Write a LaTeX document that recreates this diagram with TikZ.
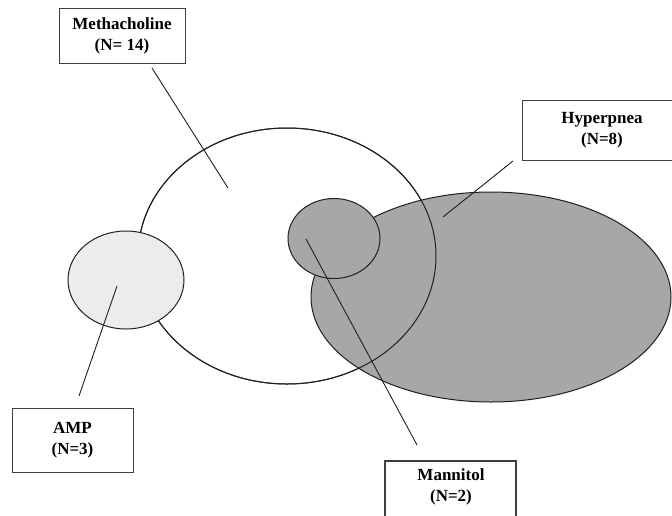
\documentclass[tikz,border=0pt]{standalone}
\usepackage{fontspec}
\setmainfont{Liberation Serif}
\definecolor{hypgray}{RGB}{167,167,170}
\definecolor{ampgray}{RGB}{236,236,236}
\definecolor{ink}{RGB}{35,31,32}
\begin{document}
\begin{tikzpicture}[x=1pt,y=-1pt,
  outline/.style={draw=ink, line width=1pt},
  box/.style={draw=black!75, line width=1pt, fill=white, inner sep=0pt},
  lbl/.style={font=\fontsize{17}{21}\selectfont\bfseries, align=center, inner sep=0pt},
  leader/.style={draw=ink, line width=0.9pt}]
\useasboundingbox (0,0) rectangle (672,515);
\clip (0,0) rectangle (672,515);
\fill[white] (0,0) rectangle (672,515);
% ellipses
\path[outline, fill=white] (287,256) ellipse [x radius=149, y radius=128];
\path[outline, fill=hypgray] (491,297) ellipse [x radius=180, y radius=105];
\path[outline] (287,256) ellipse [x radius=149, y radius=128];
\path[outline, fill=ampgray] (126,280) ellipse [x radius=58, y radius=49];
\path[outline, fill=hypgray] (334,238.5) ellipse [x radius=46, y radius=40];
% label boxes
\node[box, lbl, minimum width=126, minimum height=55] (metha) at (122,35.5) {Methacholine\\(N= 14)};
\node[box, lbl, minimum width=160, minimum height=60] (hyper) at (602,130) {Hyperpnea\\(N=8)};
\node[box, lbl, minimum width=121, minimum height=64] (amp) at (72.5,440) {AMP\\(N=3)};
\node[box, line width=1.6pt, minimum width=131, minimum height=80, anchor=north] (mannbox) at (450.5,460) {};
\node[lbl] (mann) at (451,487) {Mannitol\\(N=2)};
% leader lines
\coordinate (mA) at (152,68);  \coordinate (mB) at (228,188);
\coordinate (hA) at (513,161); \coordinate (hB) at (443,217);
\coordinate (aA) at (117,286); \coordinate (aB) at (79,396);
\coordinate (nA) at (306,239); \coordinate (nB) at (417,445);
\draw[leader] (mA) -- (mB);
\draw[leader] (hA) -- (hB);
\draw[leader] (aA) -- (aB);
\draw[leader] (nA) -- (nB);
\end{tikzpicture}
\end{document}
